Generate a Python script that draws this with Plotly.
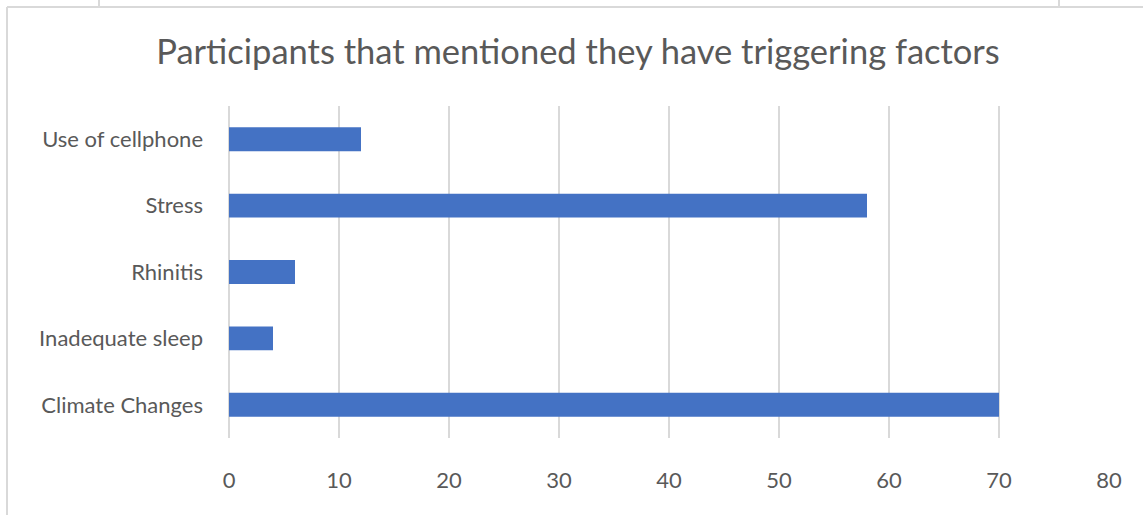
import plotly.graph_objects as go

categories = ["Climate Changes", "Inadequate sleep", "Rhinitis", "Stress", "Use of cellphone"]
values = [70, 4, 6, 58, 12]
x_ticks = [0, 10, 20, 30, 40, 50, 60, 70, 80]

W, H = 1143, 515
L, R, T, B = 229, 1109, 106, 438  # plot area in pixels

def px(x):
    return (x - L) / (R - L)

def py(y):
    return (B - y) / (B - T)

border = dict(color="#D9D9D9", width=2)
shapes = [
    dict(type="line", xref="paper", yref="paper", x0=px(7), x1=px(7), y0=py(7), y1=py(520), line=border),
    dict(type="line", xref="paper", yref="paper", x0=px(7), x1=px(1150), y0=py(7), y1=py(7), line=border),
    dict(type="line", xref="paper", yref="paper", x0=px(99), x1=px(99), y0=py(-5), y1=py(7), line=border),
    dict(type="line", xref="paper", yref="paper", x0=px(1059), x1=px(1059), y0=py(-5), y1=py(7), line=border),
]

fig = go.Figure(go.Bar(
    x=values, y=categories, orientation="h",
    marker=dict(color="#4472C4", line=dict(width=0)),
    width=0.36,
))

font_family = "Lato, Carlito, Calibri, sans-serif"
fig.update_layout(
    width=W, height=H,
    margin=dict(l=L, r=W - R, t=T, b=H - B, pad=0),
    paper_bgcolor="white", plot_bgcolor="white",
    font=dict(family=font_family, color="#595959", size=22),
    title=dict(text="Participants that mentioned they have triggering factors",
               x=(578) / W, xanchor="center", xref="container",
               y=1 - 52 / H, yanchor="middle", yref="container",
               font=dict(size=34.5, color="#595959", family=font_family)),
    xaxis=dict(range=[0, 80], tickvals=x_ticks, showgrid=True, gridcolor="#D9D9D9", gridwidth=2,
               zeroline=True, zerolinecolor="#D9D9D9", zerolinewidth=2, showline=False,
               ticks="", ticklabelstandoff=27, tickfont=dict(size=22, color="#595959"),
               fixedrange=True),
    yaxis=dict(categoryorder="array", categoryarray=categories, showgrid=False, zeroline=False,
               showline=False, ticks="", ticklabelstandoff=25,
               tickfont=dict(size=22, color="#595959")),
    shapes=shapes,
    showlegend=False,
    bargap=0.64,
)

fig.write_html("out.html")
